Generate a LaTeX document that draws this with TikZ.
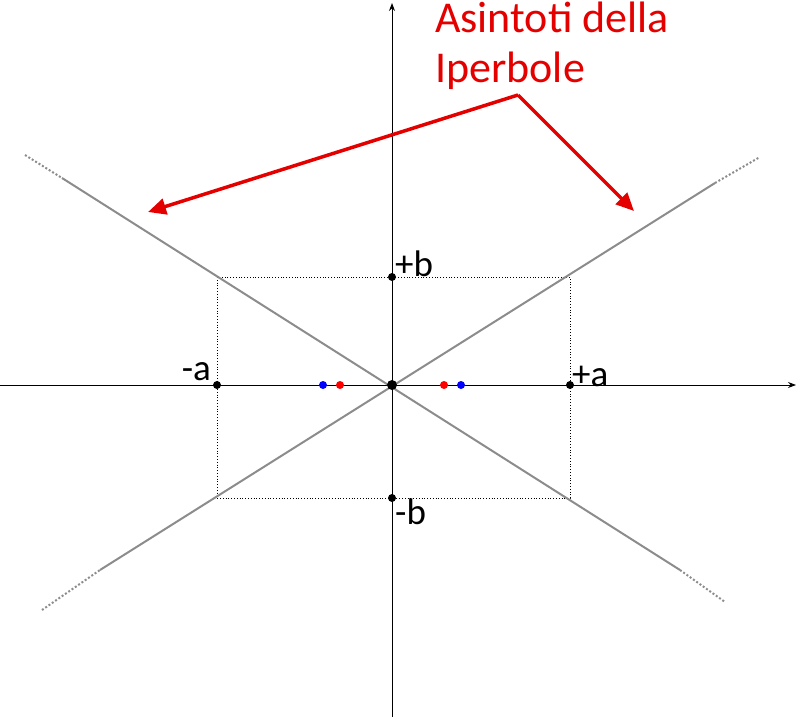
\documentclass[tikz,border=0pt]{standalone}
\usepackage{fontspec}
\setmainfont{Carlito}
\usetikzlibrary{arrows.meta}
\begin{document}
\begin{tikzpicture}[x=1pt,y=-1pt,
  axis/.style={line width=1pt,-{Stealth[length=8pt,width=6pt]}},
  asy/.style={gray!90,line width=2pt},
  asydot/.style={gray!90,line width=2pt,dotted},
  box/.style={dotted,line width=0.8pt},
  pt/.style={circle,fill=black,inner sep=0pt,minimum size=8pt},
  lab/.style={font=\fontsize{37}{42}\selectfont},
  red arrow/.style={red!90!black,line width=3.5pt,-{Triangle[length=18pt,width=16pt]}}]
\useasboundingbox (0,0) rectangle (796,717);
\coordinate (O) at (392,385);
\draw[axis] (0,385) -- (796,385);
\draw[axis] (392,717) -- (392,3);
\draw[box] (217,277) rectangle (570,498);
% asymptotes
\coordinate (A1) at (25,155); \coordinate (A2) at (62,178);
\coordinate (A3) at (680,570); \coordinate (A4) at (725,602);
\coordinate (B1) at (42,610); \coordinate (B2) at (100,570);
\coordinate (B3) at (715,183); \coordinate (B4) at (760,157);
\draw[asydot] (A1) -- (A2); \draw[asy] (A2) -- (A3); \draw[asydot] (A3) -- (A4);
\draw[asydot] (B1) -- (B2); \draw[asy] (B2) -- (B3); \draw[asydot] (B3) -- (B4);
% points
\node[pt,minimum size=10pt] (o) at (O) {};
\node[pt] (pa) at (570,385) {};
\node[pt] (ma) at (217,385) {};
\node[pt] (pb) at (392,277) {};
\node[pt] (mb) at (392,498) {};
\node[pt,fill=blue] (f1) at (323,385) {};
\node[pt,fill=red] (f2) at (340,385) {};
\node[pt,fill=red] (f3) at (444,385) {};
\node[pt,fill=blue] (f4) at (461,385) {};
\node[lab,anchor=south west,inner sep=1pt] (lpa) at (571,388) {+a};
\node[lab,anchor=south east,inner sep=1pt] (lma) at (212,382) {-a};
\node[lab,anchor=south west,inner sep=1pt] (lpb) at (394,278) {+b};
\node[lab,anchor=north west,inner sep=1pt] (lmb) at (394,498) {-b};
% label
\node[red!90!black,font=\fontsize{44}{50}\selectfont,align=left,anchor=north west,inner sep=0pt] (t) at (435,2) {Asintoti della\\Iperbole};
\coordinate (J) at (518,95);
\draw[red arrow] (J) -- (148,212);
\draw[red arrow] (J) -- (634,211);
\end{tikzpicture}
\end{document}
